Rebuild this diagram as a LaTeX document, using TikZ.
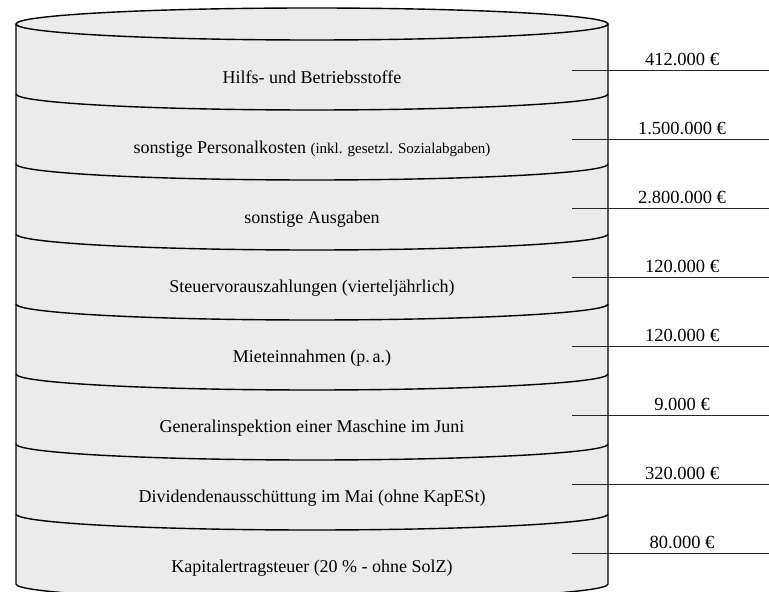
\documentclass[tikz,border=0pt]{standalone}
\usepackage{fontspec}
\setmainfont{Liberation Serif}
\begin{document}
\begin{tikzpicture}[x=1pt,y=1pt,
  cylfill/.style={fill=black!8},
  cylline/.style={draw=black,line width=1.4pt},
  valline/.style={draw=black!85,line width=0.9pt},
  slicetext/.style={anchor=base,inner sep=0pt,font=\fontsize{18}{20}\selectfont},
  valtext/.style={anchor=base,inner sep=0pt,font=\fontsize{18.5}{20}\selectfont}]
\useasboundingbox (0,0) rectangle (769,592);
\clip (0,0) rectangle (769,592);

% cylinder body
\fill[cylfill] (16,568) -- (16,8)
  arc[start angle=180,end angle=360,x radius=296pt,y radius=16pt]
  -- (608,568)
  arc[start angle=0,end angle=180,x radius=296pt,y radius=16pt] -- cycle;
\draw[cylline] (16,568) -- (16,8)
  arc[start angle=180,end angle=360,x radius=296pt,y radius=16pt]
  -- (608,568);
\draw[cylline] (312,568) ellipse [x radius=296pt,y radius=16pt];

% slice dividers
\foreach \yy in {498,428,358,288,218,148,78}
  \draw[cylline] (16,\yy) arc[start angle=180,end angle=360,x radius=296pt,y radius=16pt];

% slice labels
\node[slicetext] (l1) at (312,508.7) {Hilfs- und Betriebsstoffe};
\node[slicetext] (l2) at (312,438.7) {sonstige Personalkosten {\fontsize{15}{17}\selectfont(inkl. gesetzl. Sozialabgaben)}};
\node[slicetext] (l3) at (312,368.9) {sonstige Ausgaben};
\node[slicetext] (l4) at (312,299.1) {Steuervorauszahlungen (vierteljährlich)};
\node[slicetext] (l5) at (312,229.3) {Mieteinnahmen (p.\,a.)};
\node[slicetext] (l6) at (312,159.5) {Generalinspektion einer Maschine im Juni};
\node[slicetext] (l7) at (312,89.7) {Dividendenausschüttung im Mai (ohne KapESt)};
\node[slicetext] (l8) at (312,19.9) {Kapitalertragsteuer (20 \% - ohne SolZ)};

% amounts with their lines
\foreach \i/\py/\val in {1/70.5/412.000 €,2/139.5/1.500.000 €,3/208.5/2.800.000 €,4/277.5/120.000 €,
                         5/346.5/120.000 €,6/415.5/9.000 €,7/484.5/320.000 €,8/553.5/80.000 €}{
  \coordinate (a\i) at (572,592-\py);
  \coordinate (b\i) at (769,592-\py);
  \draw[valline] (a\i) -- (b\i);
  \node[valtext] (v\i) at (682,596.5-\py) {\val};
}
\end{tikzpicture}
\end{document}
